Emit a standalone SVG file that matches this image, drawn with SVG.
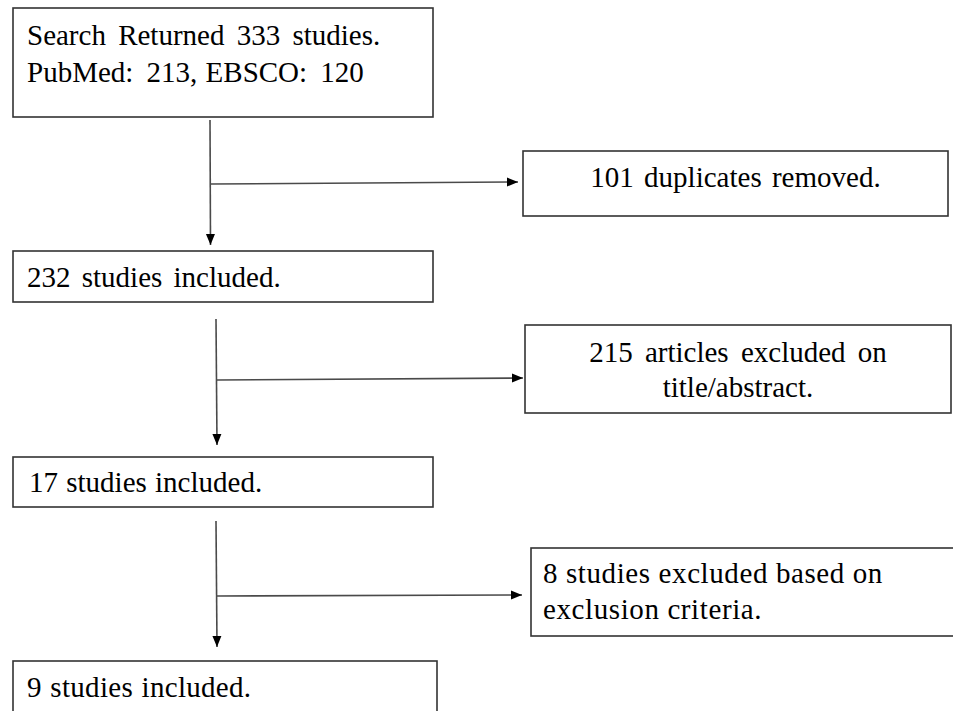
<svg xmlns="http://www.w3.org/2000/svg" width="953" height="711" viewBox="0 0 953 711">
<style>
.box{fill:#fff;stroke:#333;stroke-width:1.6}
.t{font-family:"Liberation Serif","Times New Roman",serif;font-size:29px;fill:#000}
.c{text-anchor:middle}
.ln{stroke:#4a4a4a;stroke-width:1.6;fill:none}
</style>
<defs>
<marker id="ah" markerUnits="userSpaceOnUse" markerWidth="12" markerHeight="10" refX="11" refY="5" orient="auto">
<path d="M0,0.5 L11,5 L0,9.5 z" fill="#000"/>
</marker>
</defs>
<rect width="953" height="711" fill="#fff"/>
<g id="connectors">
<line class="ln" x1="210" y1="120" x2="210.5" y2="245" marker-end="url(#ah)"/>
<line class="ln" x1="211" y1="184" x2="518" y2="182" marker-end="url(#ah)"/>
<line class="ln" x1="216" y1="319" x2="217" y2="445" marker-end="url(#ah)"/>
<line class="ln" x1="217" y1="380" x2="523" y2="378" marker-end="url(#ah)"/>
<line class="ln" x1="216" y1="521" x2="217" y2="647" marker-end="url(#ah)"/>
<line class="ln" x1="217" y1="596" x2="522" y2="595" marker-end="url(#ah)"/>
</g>
<g id="search">
<rect class="box" x="13" y="8" width="420" height="109"/>
<text class="t" x="27" y="45" word-spacing="5">Search Returned 333 studies.</text>
<text class="t" x="27" y="82" word-spacing="6">PubMed: 213, <tspan dx="-5">EBSCO: 120</tspan></text>
</g>
<g id="duplicates">
<rect class="box" x="523" y="151" width="425" height="65"/>
<text class="t c" x="735.5" y="187" word-spacing="3">101 duplicates removed.</text>
</g>
<g id="included232">
<rect class="box" x="13" y="251" width="420" height="51"/>
<text class="t" x="27" y="287" word-spacing="4">232 studies included.</text>
</g>
<g id="excluded215">
<rect class="box" x="525" y="325" width="426" height="88"/>
<text class="t c" x="738" y="362" word-spacing="5">215 articles excluded on</text>
<text class="t c" x="738" y="397">title/abstract.</text>
</g>
<g id="included17">
<rect class="box" x="13" y="457" width="420" height="50"/>
<text class="t" x="29" y="492" word-spacing="1">17 studies included.</text>
</g>
<g id="excluded8">
<rect class="box" x="531" y="548" width="430" height="88"/>
<text class="t" x="543" y="583" letter-spacing="0.6">8 studies excluded based on</text>
<text class="t" x="543" y="619" letter-spacing="0.6">exclusion criteria.</text>
</g>
<g id="included9">
<rect class="box" x="13" y="661" width="424" height="60"/>
<text class="t" x="27" y="697" letter-spacing="0.3" word-spacing="1">9 studies included.</text>
</g>
</svg>
